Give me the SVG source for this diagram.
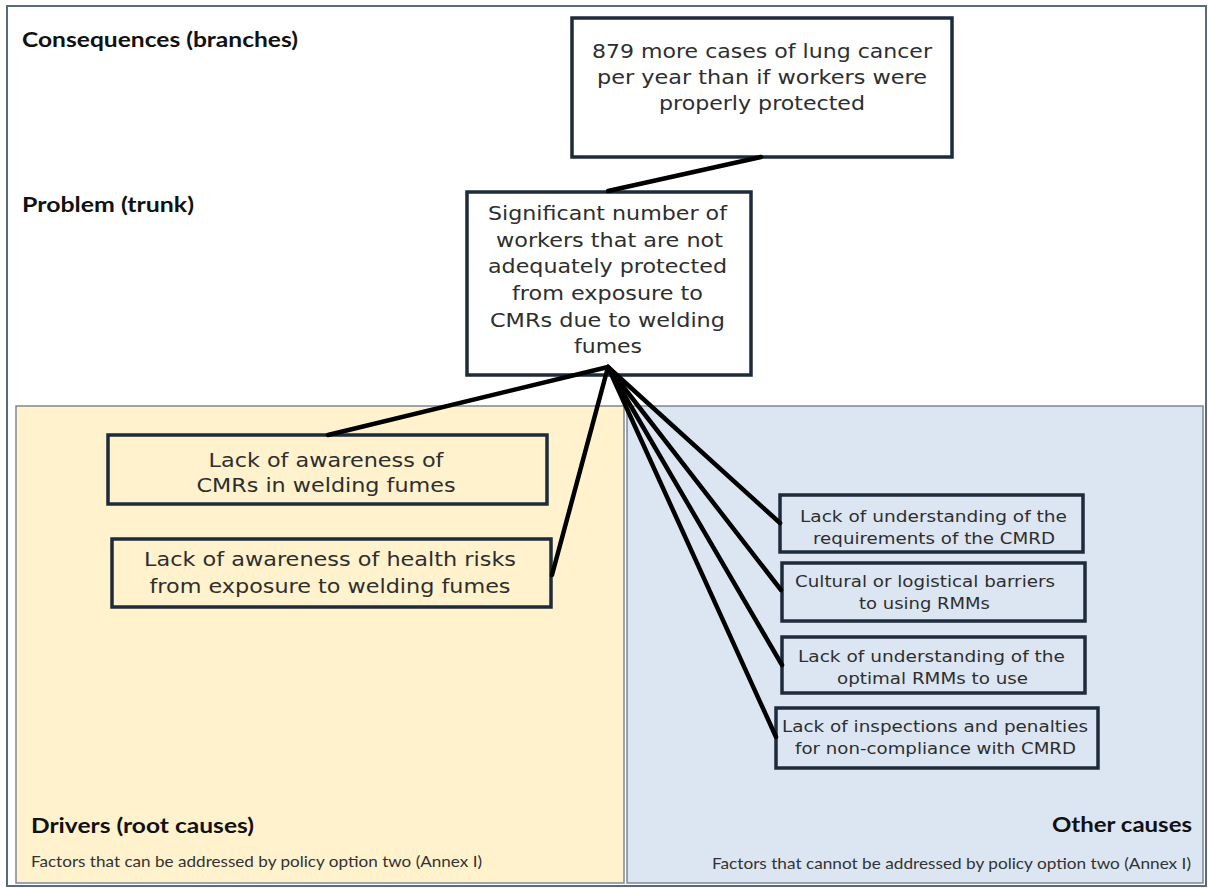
<svg xmlns="http://www.w3.org/2000/svg" width="1208" height="888" viewBox="0 0 1208 888">
<style>
.frame{fill:#ffffff;stroke:#566b80;stroke-width:2}
.zone{stroke:#7d8894;stroke-width:1.5}
.yel{fill:#fff2cc}
.blu{fill:#dce6f2}
.box{stroke:#1e2b3b;stroke-width:3.5}
.white{fill:#ffffff}
.t{font-family:"DejaVu Sans","Liberation Sans",sans-serif;fill:#2e2e2e;text-anchor:middle}
.big{font-size:20px}
.sm{font-size:16.5px}
.h{font-family:Lato,"Open Sans","Liberation Sans",sans-serif;font-weight:bold;font-size:20px;fill:#111111}
.f{font-family:Lato,"Open Sans","Liberation Sans",sans-serif;font-size:16px;fill:#333333}
.c{stroke:#000000;stroke-width:4.5;stroke-linecap:round;fill:none}
</style>
<rect class="frame" x="7" y="6" width="1199" height="880"/>
<g id="zone-drivers">
<rect class="zone yel" x="16" y="406" width="608" height="477"/>
<text class="h" x="31" y="833" textLength="223" lengthAdjust="spacingAndGlyphs">Drivers (root causes)</text>
<text class="f" x="31" y="867" textLength="451" lengthAdjust="spacingAndGlyphs">Factors that can be addressed by policy option two (Annex I)</text>
</g>
<g id="zone-other">
<rect class="zone blu" x="627" y="406" width="576" height="477"/>
<text class="h" x="1192" y="832" text-anchor="end" textLength="140" lengthAdjust="spacingAndGlyphs">Other causes</text>
<text class="f" x="1191" y="869" text-anchor="end" textLength="479" lengthAdjust="spacingAndGlyphs">Factors that cannot be addressed by policy option two (Annex I)</text>
</g>
<g id="labels">
<text class="h" x="22" y="47" textLength="276" lengthAdjust="spacingAndGlyphs">Consequences (branches)</text>
<text class="h" x="22" y="212" textLength="172" lengthAdjust="spacingAndGlyphs">Problem (trunk)</text>
</g>
<g id="consequence">
<rect class="box white" x="572" y="18" width="380" height="139"/>
<text class="t big" x="762" y="58" textLength="340" lengthAdjust="spacingAndGlyphs">879 more cases of lung cancer</text>
<text class="t big" x="762" y="84" textLength="330" lengthAdjust="spacingAndGlyphs">per year than if workers were</text>
<text class="t big" x="762" y="110" textLength="206" lengthAdjust="spacingAndGlyphs">properly protected</text>
</g>
<g id="problem">
<rect class="box white" x="467" y="192" width="284" height="183"/>
<text class="t big" x="607.5" y="220" textLength="239" lengthAdjust="spacingAndGlyphs">Significant number of</text>
<text class="t big" x="609.5" y="247" textLength="227" lengthAdjust="spacingAndGlyphs">workers that are not</text>
<text class="t big" x="607.5" y="273" textLength="239" lengthAdjust="spacingAndGlyphs">adequately protected</text>
<text class="t big" x="607.5" y="300" textLength="191" lengthAdjust="spacingAndGlyphs">from exposure to</text>
<text class="t big" x="607.5" y="327" textLength="235" lengthAdjust="spacingAndGlyphs">CMRs due to welding</text>
<text class="t big" x="608" y="353" textLength="68" lengthAdjust="spacingAndGlyphs">fumes</text>
</g>
<g id="driver-1">
<rect class="box yel" x="108" y="435" width="439" height="69"/>
<text class="t big" x="326" y="467" textLength="235" lengthAdjust="spacingAndGlyphs">Lack of awareness of</text>
<text class="t big" x="326" y="492" textLength="259" lengthAdjust="spacingAndGlyphs">CMRs in welding fumes</text>
</g>
<g id="driver-2">
<rect class="box yel" x="112" y="539" width="439" height="68"/>
<text class="t big" x="330" y="566" textLength="372" lengthAdjust="spacingAndGlyphs">Lack of awareness of health risks</text>
<text class="t big" x="330" y="593" textLength="361" lengthAdjust="spacingAndGlyphs">from exposure to welding fumes</text>
</g>
<g id="cause-1">
<rect class="box blu" x="780" y="495" width="303" height="57"/>
<text class="t sm" x="933.5" y="522" textLength="267" lengthAdjust="spacingAndGlyphs">Lack of understanding of the</text>
<text class="t sm" x="934" y="544" textLength="242" lengthAdjust="spacingAndGlyphs">requirements of the CMRD</text>
</g>
<g id="cause-2">
<rect class="box blu" x="782" y="563" width="303" height="58"/>
<text class="t sm" x="925" y="587" textLength="260" lengthAdjust="spacingAndGlyphs">Cultural or logistical barriers</text>
<text class="t sm" x="924.5" y="609" textLength="131" lengthAdjust="spacingAndGlyphs">to using RMMs</text>
</g>
<g id="cause-3">
<rect class="box blu" x="782" y="637" width="303" height="56"/>
<text class="t sm" x="931.5" y="662" textLength="267" lengthAdjust="spacingAndGlyphs">Lack of understanding of the</text>
<text class="t sm" x="932.5" y="684" textLength="191" lengthAdjust="spacingAndGlyphs">optimal RMMs to use</text>
</g>
<g id="cause-4">
<rect class="box blu" x="776" y="708" width="322" height="60"/>
<text class="t sm" x="935" y="732" textLength="306" lengthAdjust="spacingAndGlyphs">Lack of inspections and penalties</text>
<text class="t sm" x="935.5" y="754" textLength="281" lengthAdjust="spacingAndGlyphs">for non-compliance with CMRD</text>
</g>
<g id="connectors">
<line class="c" x1="761" y1="157" x2="608" y2="191"/>
<line class="c" x1="608" y1="367" x2="328" y2="435"/>
<line class="c" x1="608" y1="367" x2="552" y2="575"/>
<line class="c" x1="608" y1="367" x2="780" y2="523"/>
<line class="c" x1="608" y1="367" x2="781" y2="590"/>
<line class="c" x1="608" y1="367" x2="782" y2="665"/>
<line class="c" x1="608" y1="367" x2="776" y2="737"/>
</g>
</svg>
